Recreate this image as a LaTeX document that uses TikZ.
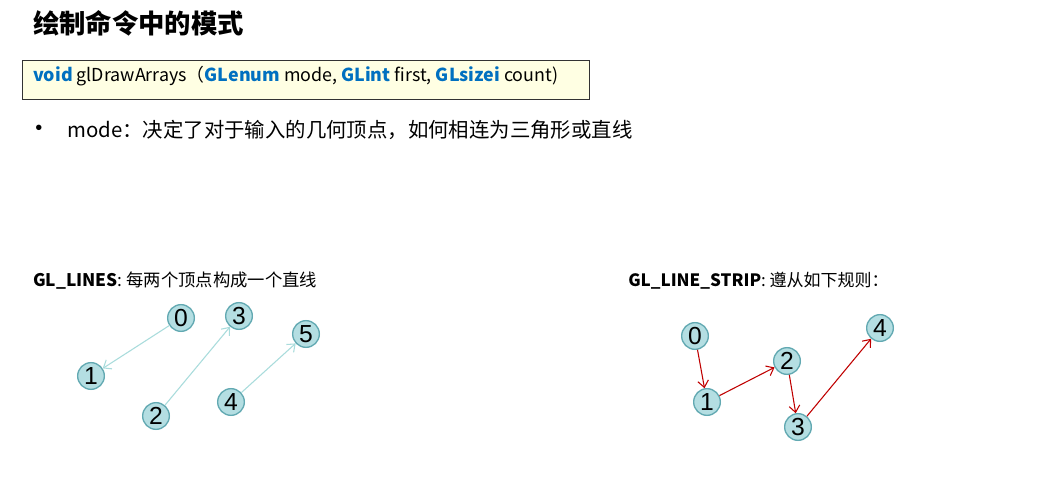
\documentclass[tikz,border=0pt]{standalone}
\usepackage{fontspec}
\setmainfont{Noto Sans CJK SC}
\newfontfamily\digitfont{Liberation Sans}
\usetikzlibrary{arrows.meta}
\definecolor{kwblue}{HTML}{0070C0}
\definecolor{boxfill}{HTML}{FFFFE3}
\definecolor{vfill}{HTML}{B4DEE2}
\definecolor{vdraw}{HTML}{62A9B2}
\definecolor{lightedge}{HTML}{A9DCDC}
\definecolor{rededge}{HTML}{C00000}
\tikzset{
  vert/.style={circle, fill=vfill, draw=vdraw, line width=1pt, minimum size=20pt, inner sep=0pt, font=\digitfont\fontsize{18.5}{18.5}\selectfont},
  lightarrow/.style={draw=lightedge, line width=0.8pt, -{Straight Barb[length=5pt,width=8pt]}},
  redarrow/.style={draw=rededge, line width=0.8pt, -{Straight Barb[length=5pt,width=8pt]}},
  txt/.style={anchor=west, inner sep=0pt},
}
\begin{document}
\begin{tikzpicture}[x=0.75pt,y=-0.75pt]
\useasboundingbox[fill=white] (0,0) rectangle (1043,481);
\node[txt, font=\fontsize{19.75}{19.75}\selectfont\bfseries] (title) at (33,23) {绘制命令中的模式};
\node[draw=black!80, line width=0.8pt, fill=boxfill, anchor=north west, minimum width=425.25pt, minimum height=29.25pt, inner sep=0pt] (box) at (22,60) {};
\node[txt, font=\fontsize{13.4}{13.4}\selectfont] (proto) at (33,76) {\textcolor{kwblue}{\bfseries void} glDrawArrays（\textcolor{kwblue}{\bfseries GLenum} mode, \textcolor{kwblue}{\bfseries GLint} first, \textcolor{kwblue}{\bfseries GLsizei} count)};
\node[font=\digitfont\fontsize{15}{15}\selectfont, inner sep=0pt] (bullet) at (39,130) {•};
\node[txt, font=\fontsize{15.3}{15.3}\selectfont] (mode) at (67,130) {mode：决定了对于输入的几何顶点，如何相连为三角形或直线};
\node[txt, font=\fontsize{13}{13}\selectfont] (lines) at (33,281) {\textbf{GL\_LINES}: 每两个顶点构成一个直线};
\node[txt, font=\fontsize{12.75}{12.75}\selectfont] (strip) at (628,281) {\textbf{GL\_LINE\_STRIP}: 遵从如下规则：};
% left
\node[vert] (a0) at (181,318) {0};
\node[vert] (a1) at (91,376) {1};
\node[vert] (a2) at (156,416) {2};
\node[vert] (a3) at (239,316) {3};
\node[vert] (a4) at (231,402) {4};
\node[vert] (a5) at (306,334) {5};
\draw[lightarrow] (a0) -- (a1);
\draw[lightarrow] (a2) -- (a3);
\draw[lightarrow] (a4) -- (a5);
% right
\node[vert] (b0) at (695,336) {0};
\node[vert] (b1) at (707,402) {1};
\node[vert] (b2) at (787,361) {2};
\node[vert] (b3) at (798,427) {3};
\node[vert] (b4) at (880,328) {4};
\draw[redarrow] (b0) -- (b1);
\draw[redarrow] (b1) -- (b2);
\draw[redarrow] (b2) -- (b3);
\draw[redarrow] (b3) -- (b4);
\end{tikzpicture}
\end{document}
